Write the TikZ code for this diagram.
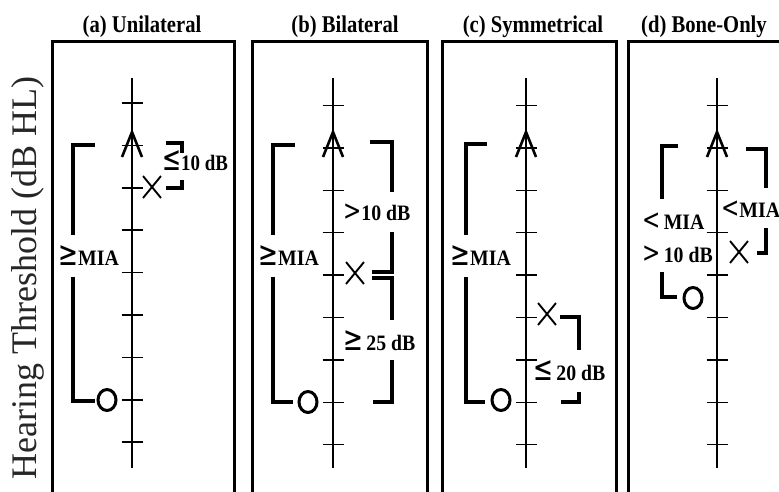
\documentclass[tikz,border=0pt]{standalone}
\usepackage{fontspec}
\setmainfont{Liberation Serif}
\newfontfamily\symf{DejaVu Sans}
\usetikzlibrary{shapes.misc,shapes.geometric}
\newcommand{\relsym}[1]{\scalebox{1.2}[1.55]{\symf\mdseries #1}}
\newcommand{\ltgt}[1]{\scalebox{1.1}[1.3]{\symf\mdseries #1}}
\begin{document}
\begin{tikzpicture}[x=1pt,y=-1pt,
  frm/.style={line width=3pt},
  brk/.style={line width=3.2pt},
  axl/.style={line width=1.2pt},
  tk/.style={line width=1.5pt},
  xm/.style={cross out, draw, line width=1.9pt, minimum width=16pt, minimum height=20pt, inner sep=0pt},
  om/.style={ellipse, draw, line width=3pt, minimum width=18pt, minimum height=21pt, inner sep=0pt},
  am/.style={line width=2.6pt},
  ttl/.style={font=\fontsize{24}{26}\selectfont\bfseries, inner sep=0pt, anchor=base},
  lbl/.style={font=\fontsize{22}{24}\selectfont\bfseries, inner sep=0pt, anchor=base west},
  ylab/.style={font=\fontsize{36}{40}\selectfont, inner sep=0pt, text=black!85},
]
\useasboundingbox (0,0) rectangle (779,491);
\clip (0,0) rectangle (779,491);

% y label
\node[ylab, rotate=90, anchor=base] (ylab) at (36,278) {Hearing Threshold (dB HL)};

% titles
\node[ttl] (ta) at (142,32) {\scalebox{0.86}[1]{(a) Unilateral}};
\node[ttl] (tb) at (345,32) {\scalebox{0.86}[1]{(b) Bilateral}};
\node[ttl] (tc) at (533,32) {\scalebox{0.86}[1]{(c) Symmetrical}};
\node[ttl] (td) at (704,32) {\scalebox{0.86}[1]{(d) Bone-Only}};

% frames
\foreach \l/\r in {52/234,252/427,442/616,628/800}
  \draw[frm] (\l,41) rectangle (\r,520);

% axes, ticks and air-conduction marks
\foreach \ax/\yz in {132/103, 333/105.5, 526/105.5, 717/105.5} {
  \draw[axl] (\ax,78) -- (\ax,468);
  \foreach \k in {0,...,8}
    \draw[tk] (\ax-10.5,\yz+42.4*\k) -- (\ax+10.5,\yz+42.4*\k);
  \draw[am] (\ax-10,157) -- (\ax,132) -- (\ax+10,157);
}

% (a)
\draw[brk] (95,145) -- (73,145) -- (73,235);
\draw[brk] (73,277) -- (73,401) -- (95,401);
\node[lbl] (la1) at (58,265) {\scalebox{0.9}[1]{\relsym{≥}MIA}};
\node[om] (oa) at (107,400) {};
\node[xm] (xa) at (152,187) {};
\draw[brk] (166,143) -- (182,143) -- (182,153);
\draw[brk] (182,180) -- (182,188) -- (166,188);
\node[lbl] (la2) at (162,170) {\scalebox{0.86}[1]{\relsym{≤}10 dB}};

% (b)
\draw[brk] (295,145) -- (273,145) -- (273,235);
\draw[brk] (273,277) -- (273,402) -- (293,402);
\node[lbl] (lb1) at (258,265) {\scalebox{0.9}[1]{\relsym{≥}MIA}};
\node[om] (ob) at (308,402) {};
\node[xm] (xb) at (355,273) {};
\draw[brk] (370,142) -- (392,142) -- (392,192);
\node[lbl] (lb2) at (343,220) {\scalebox{0.9}[1]{\ltgt{>}10 dB}};
\draw[brk] (392,232) -- (392,272) -- (372,272);
\draw[brk] (372,278) -- (392,278) -- (392,320);
\node[lbl] (lb3) at (343,350) {\scalebox{0.9}[1]{\relsym{≥}\,25 dB}};
\draw[brk] (392,360) -- (392,402) -- (373,402);

% (c)
\draw[brk] (487,144) -- (466,144) -- (466,235);
\draw[brk] (466,277) -- (466,402) -- (485,402);
\node[lbl] (lc1) at (450,265) {\scalebox{0.9}[1]{\relsym{≥}MIA}};
\node[om] (oc) at (501,400) {};
\node[xm] (xc) at (547,314) {};
\draw[brk] (560,317) -- (579,317) -- (579,350);
\node[lbl] (lc2) at (533,380) {\scalebox{0.9}[1]{\relsym{≤}\,20 dB}};
\draw[brk] (579,392) -- (579,402) -- (561,402);

% (d)
\draw[brk] (678,146) -- (662,146) -- (662,199);
\node[lbl] (ld1) at (642,229) {\scalebox{0.9}[1]{\ltgt{<}\,MIA}};
\node[lbl] (ld2) at (642,262) {\scalebox{0.9}[1]{\ltgt{>}\,10 dB}};
\draw[brk] (662,272) -- (662,297) -- (677,297);
\node[om] (od) at (693,298) {};
\draw[brk] (746,149) -- (766,149) -- (766,188);
\node[lbl] (ld3) at (721,217) {\scalebox{0.9}[1]{\ltgt{<}MIA}};
\draw[brk] (766,228) -- (766,253) -- (757,253);
\node[xm] (xd) at (739,252) {};
\end{tikzpicture}
\end{document}
